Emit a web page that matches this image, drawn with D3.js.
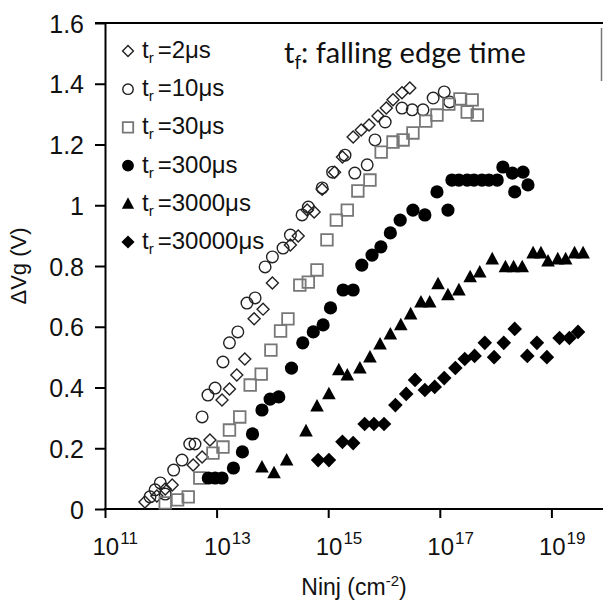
<!DOCTYPE html>
<html>
<head>
<meta charset="utf-8">
<script src="https://cdn.jsdelivr.net/npm/d3@7"></script>
<style>
  body { margin: 0; background: #fff; }
  svg { display: block; }
  text { font-family: "Liberation Sans", Arial, sans-serif; fill: #111; }
</style>
</head>
<body>
<svg width="603" height="604"></svg>
<script>
// [Ninj (cm^-2), dVg (V)]
const tr2 = [
  [5.2e11, 0.023], [8.5e11, 0.043], [1.2e12, 0.066], [1.6e12, 0.079], [3.8e12, 0.145],
  [5.5e12, 0.171], [7.6e12, 0.227], [1.25e13, 0.359], [1.7e13, 0.395], [2.3e13, 0.441],
  [3.2e13, 0.494], [4.7e13, 0.626], [6.8e13, 0.658], [1.0e14, 0.744], [2.1e14, 0.869],
  [2.9e14, 0.899], [4.2e14, 0.984], [5.6e14, 0.978], [7.8e14, 1.053], [1.3e15, 1.109],
  [1.8e15, 1.159], [2.8e15, 1.225], [3.9e15, 1.248], [5.4e15, 1.264], [7.8e15, 1.294],
  [1.1e16, 1.32], [1.45e16, 1.347], [2.1e16, 1.37], [2.9e16, 1.386],
];
const tr10 = [
  [6.4e11, 0.04], [7.9e11, 0.063], [9.8e11, 0.086], [1.2e12, 0.049], [1.7e12, 0.128],
  [2.4e12, 0.161], [3.3e12, 0.214], [4.1e12, 0.214], [5.5e12, 0.303], [7.0e12, 0.375],
  [9.4e12, 0.398], [1.3e13, 0.484], [1.7e13, 0.547], [2.4e13, 0.583], [3.5e13, 0.678],
  [4.9e13, 0.695], [7.4e13, 0.797], [1.0e14, 0.83], [1.55e14, 0.859], [2.1e14, 0.902],
  [3.4e14, 0.968], [4.4e14, 0.994], [7.8e14, 1.057], [1.2e15, 1.109], [2.0e15, 1.165],
  [3.0e15, 1.106], [5.0e15, 1.133], [6.9e15, 1.215], [1.05e16, 1.274], [2.1e16, 1.32],
  [3.2e16, 1.314], [5.0e16, 1.314], [7.6e16, 1.353], [1.2e17, 1.373], [1.5e17, 1.34],
];
const tr30 = [
  [1.2e12, 0.02], [2.0e12, 0.03], [3.1e12, 0.04], [5.0e12, 0.102], [8.6e12, 0.184],
  [1.3e13, 0.204], [1.7e13, 0.26], [2.6e13, 0.303], [4.0e13, 0.408], [6.3e13, 0.444],
  [9.4e13, 0.523], [1.4e14, 0.586], [1.9e14, 0.626], [3.1e14, 0.737], [4.4e14, 0.747],
  [6.3e14, 0.787], [9.5e14, 0.886], [1.4e15, 0.951], [2.2e15, 0.984], [3.4e15, 1.047],
  [5.6e15, 1.083], [8.9e15, 1.175], [1.45e16, 1.208], [2.2e16, 1.215], [3.3e16, 1.238],
  [5.6e16, 1.277], [8.9e16, 1.297], [1.45e17, 1.333], [2.3e17, 1.35], [3.1e17, 1.307],
  [3.8e17, 1.347], [4.7e17, 1.297],
];
const tr300 = [
  [7.1e12, 0.102], [9.4e12, 0.102], [1.25e13, 0.102], [2.0e13, 0.135], [2.9e13, 0.188],
  [4.4e13, 0.247], [6.5e13, 0.326], [9.1e13, 0.362], [1.3e14, 0.369], [2.2e14, 0.464],
  [3.5e14, 0.547], [5.4e14, 0.583], [8.1e14, 0.606], [1.1e15, 0.662], [1.85e15, 0.721],
  [2.8e15, 0.721], [4.0e15, 0.803], [6.1e15, 0.836], [8.8e15, 0.863], [1.3e16, 0.909],
  [1.95e16, 0.951], [3.3e16, 0.984], [5.4e16, 0.968], [8.9e16, 1.044], [1.4e17, 0.984],
  [1.65e17, 1.083], [2.2e17, 1.083], [3.1e17, 1.083], [4.1e17, 1.083], [5.7e17, 1.083],
  [7.6e17, 1.083], [1.07e18, 1.083], [1.35e18, 1.126], [2.0e18, 1.106], [3.1e18, 1.109],
  [2.2e18, 1.044], [3.8e18, 1.067],
];
const tr3000 = [
  [6.5e13, 0.138], [1.07e14, 0.119], [1.8e14, 0.161], [4.0e14, 0.257], [6.3e14, 0.339],
  [1.03e15, 0.379], [1.55e15, 0.458], [2.2e15, 0.441], [3.7e15, 0.464], [5.6e15, 0.5],
  [8.5e15, 0.543], [1.3e16, 0.576], [2.0e16, 0.606], [3.0e16, 0.642], [4.6e16, 0.681],
  [6.6e16, 0.681], [9.3e16, 0.741], [1.4e17, 0.705], [2.2e17, 0.721], [3.5e17, 0.764],
  [5.2e17, 0.78], [8.7e17, 0.823], [1.5e18, 0.797], [2.1e18, 0.797], [3.0e18, 0.797],
  [4.7e18, 0.843], [6.5e18, 0.843], [8.7e18, 0.816], [1.3e19, 0.823], [1.8e19, 0.823],
  [2.6e19, 0.843], [3.7e19, 0.843],
];
const tr30000 = [
  [6.6e14, 0.161], [1.03e15, 0.161], [1.8e15, 0.221], [2.8e15, 0.217], [4.5e15, 0.28],
  [6.6e15, 0.28], [1.0e16, 0.28], [1.6e16, 0.342], [2.5e16, 0.379], [3.6e16, 0.425],
  [5.4e16, 0.392], [8.1e16, 0.402], [1.2e17, 0.431], [1.9e17, 0.464], [2.8e17, 0.494],
  [4.2e17, 0.504], [6.4e17, 0.547], [9.4e17, 0.5], [1.4e18, 0.547], [2.2e18, 0.593],
  [3.7e18, 0.504], [5.5e18, 0.547], [8.3e18, 0.5], [1.4e19, 0.563], [2.1e19, 0.563],
  [3.0e19, 0.583],
];

const legendLabels = ["2", "10", "30", "300", "3000", "30000"];
const yTicks = [0, 0.2, 0.4, 0.6, 0.8, 1, 1.2, 1.4, 1.6];
const xTicks = [1e11, 1e13, 1e15, 1e17, 1e19];

let svg = d3.select("svg");

const LEFT = 105, TOP = 23, BOTTOM = 509, RIGHT = 603;
const DECADE = 55.8;

let x = d3.scaleLog().domain([1e11, 1e20]).range([LEFT, LEFT + 9 * DECADE]);
let y = d3.scaleLinear().domain([0, 1.6]).range([BOTTOM, TOP]);

// marker paths centred on 0,0
const shapes = {
  diamond: (r) => `M0,${-r}L${r},0L0,${r}L${-r},0Z`,
  square: (r) => `M${-r},${-r}H${r}V${r}H${-r}Z`,
  triangle: (r) => `M0,${-r * 1.05}L${r},${r * 0.8}L${-r},${r * 0.8}Z`,
  circle: (r) => `M${r},0A${r},${r} 0 1,1 ${-r},0A${r},${r} 0 1,1 ${r},0Z`,
};

const series = [
  { data: tr2, shape: "diamond", r: 6, fill: "none", stroke: "#222", sw: 1.4 },
  { data: tr10, shape: "circle", r: 5.8, fill: "none", stroke: "#222", sw: 1.4 },
  { data: tr30, shape: "square", r: 5.8, fill: "none", stroke: "#777", sw: 1.8 },
  { data: tr300, shape: "circle", r: 6.6, fill: "#000", stroke: "none", sw: 0 },
  { data: tr3000, shape: "triangle", r: 6.8, fill: "#000", stroke: "none", sw: 0 },
  { data: tr30000, shape: "diamond", r: 7.3, fill: "#000", stroke: "none", sw: 0 },
];

//////////// AXES ////////////

// top frame line
svg.append("line")
  .attr("x1", LEFT - 10).attr("x2", RIGHT)
  .attr("y1", TOP).attr("y2", TOP)
  .attr("stroke", "#000").attr("stroke-width", 2);

// small right-hand fragment
svg.append("line")
  .attr("x1", 601.5).attr("x2", 601.5)
  .attr("y1", 28).attr("y2", 81)
  .attr("stroke", "#777").attr("stroke-width", 1.5);

let yAxis = svg.append("g")
  .attr("transform", `translate(${LEFT},0)`)
  .call(d3.axisLeft(y).tickValues(yTicks).tickSize(10).tickSizeOuter(0)
    .tickFormat(d3.format("~g")));
yAxis.selectAll("path, line").attr("stroke", "#000").attr("stroke-width", 2);
yAxis.selectAll("text")
  .attr("x", -21)
  .attr("dy", "0.36em")
  .style("font-size", "25px")
  .attr("fill", "#111");

let xAxis = svg.append("g")
  .attr("transform", `translate(0,${BOTTOM})`)
  .call(d3.axisBottom(x).tickValues(xTicks).tickSize(9).tickSizeOuter(0).tickFormat(""));
xAxis.select(".domain").attr("d", `M${LEFT - 1},0H${RIGHT}`);
xAxis.selectAll("path, line").attr("stroke", "#000").attr("stroke-width", 2);

// "10" centred on the tick, exponent hanging to the right
xAxis.selectAll(".tick").append("text")
  .attr("y", 46)
  .attr("x", -13)
  .attr("text-anchor", "start")
  .attr("fill", "#111")
  .style("font-size", "24px")
  .each(function (d) {
    const t = d3.select(this);
    t.append("tspan").text("10");
    t.append("tspan")
      .attr("dy", -11)
      .attr("dx", 1)
      .style("font-size", "17px")
      .text(Math.round(Math.log10(d)));
  });

// axis titles
svg.append("text")
  .attr("transform", `translate(26,${(TOP + BOTTOM) / 2}) rotate(-90)`)
  .attr("text-anchor", "middle")
  .style("font-size", "22px")
  .text("ΔVg (V)");

let xTitle = svg.append("text")
  .attr("x", (LEFT + RIGHT) / 2)
  .attr("y", 595)
  .attr("text-anchor", "middle")
  .style("font-size", "23px");
xTitle.append("tspan").text("Ninj (cm");
xTitle.append("tspan").attr("dy", -9).style("font-size", "15px").text("-2");
xTitle.append("tspan").attr("dy", 9).text(")");

//////////// MARKERS ////////////

series.forEach((s) => {
  svg.append("g")
    .selectAll("path")
    .data(s.data)
    .enter()
    .append("path")
    .attr("transform", (d) => `translate(${x(d[0])},${y(d[1])})`)
    .attr("d", shapes[s.shape](s.r))
    .attr("fill", s.fill)
    .attr("stroke", s.stroke)
    .attr("stroke-width", s.sw);
});

//////////// LEGEND ////////////

let legend = svg.append("g")
  .selectAll("g")
  .data(series)
  .enter()
  .append("g")
  .attr("transform", (d, i) => `translate(128,${51 + i * 38.2})`);

legend.append("path")
  .attr("d", (d) => shapes[d.shape](d.r * 0.9))
  .attr("fill", (d) => d.fill)
  .attr("stroke", (d) => d.stroke)
  .attr("stroke-width", (d) => d.sw);

let legendText = legend.append("text")
  .attr("x", 14)
  .attr("y", 7)
  .style("font-size", "24px");
legendText.append("tspan").text("t");
legendText.append("tspan").attr("dy", 5).style("font-size", "15px").text("r");
legendText.append("tspan").attr("dy", -5).attr("dx", 4)
  .text((d, i) => "=" + legendLabels[i] + "μs");

// note in the top corner
let note = svg.append("text")
  .attr("x", 284)
  .attr("y", 63)
  .style("font-family", "Lato, 'Open Sans', sans-serif")
  .style("font-size", "29px");
note.append("tspan").text("t");
note.append("tspan").attr("dy", 6).style("font-size", "19px").text("f");
note.append("tspan").attr("dy", -6).text(": falling edge time");
</script>
</body>
</html>
